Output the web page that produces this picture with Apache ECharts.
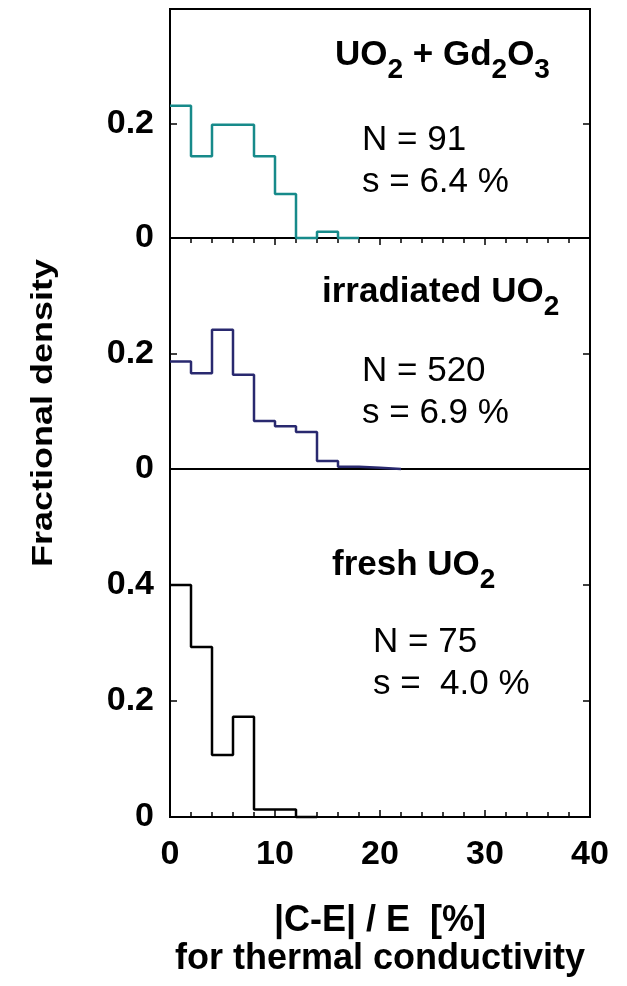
<!DOCTYPE html>
<html>
<head>
<meta charset="utf-8">
<script src="https://cdn.jsdelivr.net/npm/echarts@6/dist/echarts.min.js"></script>
<style>
  html, body { margin: 0; padding: 0; background: #fff; }
  #chart { width: 627px; height: 986px; }
</style>
</head>
<body>
<div id="chart"></div>
<script>
// Histogram bin edges, |C-E|/E in percent (bins are 2 % wide)
const binEdges = [0, 2, 4, 6, 8, 10, 12, 14, 16, 18, 20, 22];

// Fractional density per bin, one array per fuel type
const gdValues    = [0.231, 0.143, 0.198, 0.198, 0.143, 0.077, 0.000, 0.011, 0.000];
const irrValues   = [0.186, 0.166, 0.241, 0.163, 0.083, 0.074, 0.064, 0.014, 0.004, 0.002, 0.000];
const freshValues = [0.400, 0.293, 0.107, 0.173, 0.013, 0.013, 0.000];

// Panel labels and statistics
const panelNames = ['UO2 + Gd2O3', 'irradiated UO2', 'fresh UO2'];
const panelN     = [91, 520, 75];
const panelS     = ['6.4', '6.9', ' 4.0'];

// Axis ranges and ticks
const xMin = 0, xMax = 40, xStep = 10;
const yMaxes = [0.4, 0.4, 0.6];
const yStep = 0.2;

const FONT = '"Liberation Sans", Arial, Helvetica, sans-serif';

// Turn per-bin values into step-line points (left edge of each bin, plus closing edge)
function stepPoints(values) {
  const pts = values.map((v, i) => [binEdges[i], v]);
  pts.push([binEdges[values.length], values[values.length - 1]]);
  return pts;
}

const grids = [
  { left: 170, right: 37, top: 9,   height: 229 },
  { left: 170, right: 37, top: 238, height: 231 },
  { left: 170, right: 37, top: 469, height: 348 }
].map(g => Object.assign(g, { show: true, borderColor: '#000', borderWidth: 2, containLabel: false }));

const tickStyle = { color: '#000', width: 1.5 };

function xAxisFor(idx) {
  const base = {
    type: 'value', gridIndex: idx, min: xMin, max: xMax, interval: xStep,
    splitLine: { show: false },
    axisLine: { show: true, lineStyle: { color: '#000', width: 2 } }
  };
  if (idx === 0) {
    return Object.assign(base, {
      position: 'top',
      axisLabel: { show: false },
      axisTick: { show: true, inside: true, length: 7, lineStyle: tickStyle },
      minorTick: { show: true, splitNumber: 5, length: 5, lineStyle: tickStyle }
    });
  }
  if (idx === 1) {
    return Object.assign(base, {
      axisLabel: { show: false },
      axisTick: { show: false },
      axisLine: { show: true, lineStyle: { color: '#000', width: 1.5 } }
    });
  }
  return Object.assign(base, {
    position: 'bottom',
    axisLabel: { show: true, margin: 21, color: '#000', fontFamily: FONT, fontWeight: 'bold', fontSize: 34 },
    axisTick: { show: true, inside: true, length: 7, lineStyle: tickStyle },
    minorTick: { show: true, splitNumber: 5, length: 5, lineStyle: tickStyle },
    name: '|C-E| / E  [%]\nfor thermal conductivity',
    nameLocation: 'middle',
    nameGap: 85,
    nameTextStyle: { color: '#000', fontFamily: FONT, fontWeight: 'bold', fontSize: 36, lineHeight: 38 }
  });
}

function yAxesFor(idx) {
  const common = {
    type: 'value', gridIndex: idx, min: 0, max: yMaxes[idx], interval: yStep,
    splitLine: { show: false },
    axisLine: { show: true, lineStyle: { color: '#000', width: 2 } },
    axisTick: { show: true, inside: true, length: 7, lineStyle: tickStyle }
  };
  return [
    Object.assign({}, common, {
      position: 'left',
      axisLabel: {
        show: true, margin: 16, showMaxLabel: false, color: '#000',
        fontFamily: FONT, fontWeight: 'bold', fontSize: 34
      }
    }),
    Object.assign({}, common, { position: 'right', axisLabel: { show: false } })
  ];
}

const yAxes = [].concat(yAxesFor(0), yAxesFor(1), yAxesFor(2));

const seriesColors = ['#178a8a', '#29296f', '#000000'];
const seriesValues = [gdValues, irrValues, freshValues];

const series = seriesValues.map((vals, i) => ({
  type: 'line',
  name: panelNames[i],
  xAxisIndex: i,
  yAxisIndex: i * 2,
  step: 'end',
  showSymbol: false,
  symbol: 'none',
  clip: false,
  animation: false,
  lineStyle: { color: seriesColors[i], width: 2.5 },
  data: stepPoints(vals)
}));

// Rich-text styles for the panel titles (with subscripts) and the statistics
const richTitle = {
  b: { fontFamily: FONT, fontWeight: 'bold', fontSize: 35, lineHeight: 35, verticalAlign: 'top', fill: '#000' },
  s: { fontFamily: FONT, fontWeight: 'bold', fontSize: 28, lineHeight: 28, verticalAlign: 'top', padding: [18, 0, 0, 0], fill: '#000' }
};
const titleTexts = [
  '{b|UO}{s|2}{b| + Gd}{s|2}{b|O}{s|3}',
  '{b|irradiated UO}{s|2}',
  '{b|fresh UO}{s|2}'
];
const titlePos  = [[335, 38], [322, 275], [332, 548]];
const statsPos  = [[362, 119], [362, 350], [373, 621]];

const graphics = [];
titleTexts.forEach((t, i) => {
  graphics.push({
    type: 'text', left: titlePos[i][0], top: titlePos[i][1], z: 10,
    style: { text: t, rich: richTitle, fill: '#000' }
  });
  graphics.push({
    type: 'text', left: statsPos[i][0], top: statsPos[i][1], z: 10,
    style: {
      text: 'N = ' + panelN[i] + '\ns = ' + panelS[i] + ' %',
      font: '35px ' + FONT, lineHeight: 42, fill: '#000'
    }
  });
});
// Shared y-axis title
graphics.push({
  type: 'text', x: 44, y: 413, rotation: Math.PI / 2, scaleX: 1.2, z: 10,
  style: {
    text: 'Fractional density', font: 'bold 30px ' + FONT, fill: '#000',
    align: 'center', verticalAlign: 'middle'
  }
});

const chart = echarts.init(document.getElementById('chart'), null, { renderer: 'canvas' });
chart.setOption({
  animation: false,
  backgroundColor: '#fff',
  grid: grids,
  xAxis: [xAxisFor(0), xAxisFor(1), xAxisFor(2)],
  yAxis: yAxes,
  series: series,
  graphic: graphics
});
</script>
</body>
</html>
